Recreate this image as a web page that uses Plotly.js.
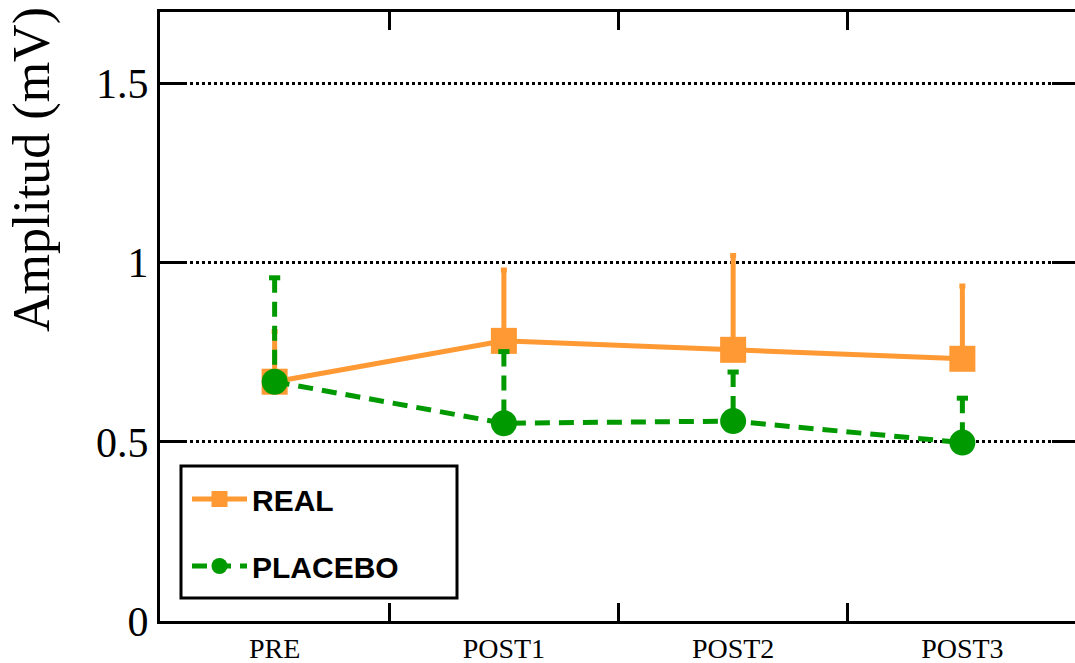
<!DOCTYPE html>
<html>
<head>
<meta charset="utf-8">
<script src="https://cdn.plot.ly/plotly-3.0.1.min.js"></script>
<style>
html, body { margin: 0; padding: 0; overflow: hidden; background: #fff; }
#chart { width: 1080px; height: 663px; }
</style>
</head>
<body>
<div id="chart"></div>
<script>
// ---- data ----
var categories = ['PRE', 'POST1', 'POST2', 'POST3'];
var realValues = [0.668, 0.782, 0.757, 0.732];
var realErrors = [0.14, 0.198, 0.263, 0.203];
var placeboValues = [0.668, 0.552, 0.558, 0.498];
var placeboErrors = [0.29, 0.2, 0.137, 0.124];
var yTickValues = [0, 0.5, 1, 1.5];
var yTickLabels = ['0', '0.5', '1', '1.5'];
var seriesNames = ['REAL', 'PLACEBO'];
var yTitle = 'Amplitud (mV)';

// ---- styles ----
var ORANGE = '#FF9933';
var GREEN = '#009900';
var GREEN_DASH = '15px,9px';

// dashed error segments for placebo, built from the data arrays
var pErrX = [], pErrY = [];
categories.forEach(function (c, i) {
  pErrX.push(c, c, null);
  pErrY.push(placeboValues[i] + placeboErrors[i], placeboValues[i], null);
});
var pCapY = placeboValues.map(function (v, i) { return v + placeboErrors[i]; });

var traces = [
  {
    type: 'scatter', mode: 'lines+markers', name: seriesNames[0], legendgroup: 'real',
    x: categories, y: realValues,
    line: { color: ORANGE, width: 5 },
    marker: { symbol: 'square', size: 26, color: ORANGE },
    error_y: {
      type: 'data', symmetric: false, array: realErrors,
      arrayminus: realErrors.map(function () { return 0; }),
      color: ORANGE, thickness: 5, width: 3
    },
    cliponaxis: false
  },
  {
    type: 'scatter', mode: 'lines', showlegend: false, legendgroup: 'placebo',
    x: pErrX, y: pErrY, connectgaps: false, hoverinfo: 'skip',
    line: { color: GREEN, width: 5, dash: GREEN_DASH }
  },
  {
    type: 'scatter', mode: 'markers', showlegend: false, legendgroup: 'placebo',
    x: categories, y: pCapY, hoverinfo: 'skip',
    marker: { symbol: 'line-ew', size: 8, line: { color: GREEN, width: 5 } }
  },
  {
    type: 'scatter', mode: 'lines+markers', name: seriesNames[1], legendgroup: 'placebo',
    x: categories, y: placeboValues,
    line: { color: GREEN, width: 5, dash: GREEN_DASH },
    marker: { symbol: 'circle', size: 26, color: GREEN }
  }
];

var PW = 917, PH = 609, ML = 160, MT = 12;
function px2x(p) { return (p - ML) / PW; }
function px2y(p) { return (MT + PH - p) / PH; }

var layout = {
  width: 1080, height: 663,
  margin: { l: ML, r: 3, t: MT, b: 42 },
  paper_bgcolor: '#fff', plot_bgcolor: '#fff',
  showlegend: true,
  xaxis: {
    type: 'category', categoryorder: 'array', categoryarray: categories,
    range: [-0.5, 3.5], tickson: 'boundaries',
    ticks: 'inside', ticklen: 18, tickwidth: 3, tickcolor: '#000',
    showline: true, linewidth: 3, linecolor: '#000', mirror: 'ticks',
    showgrid: false, zeroline: false,
    tickfont: { family: 'Liberation Serif, serif', size: 28, color: '#000' }
  },
  yaxis: {
    range: [0, 1.7], tickmode: 'array', tickvals: yTickValues, ticktext: yTickLabels,
    ticks: 'inside', ticklen: 25, tickwidth: 3, tickcolor: '#000',
    showline: true, linewidth: 3, linecolor: '#000', mirror: 'ticks',
    showgrid: true, gridcolor: '#000', gridwidth: 3, griddash: 'dot',
    zeroline: false,
    tickfont: { family: 'Liberation Serif, serif', size: 42, color: '#000' }
  },
  legend: {
    x: px2x(187), y: px2y(473), xanchor: 'left', yanchor: 'top',
    bgcolor: 'rgba(0,0,0,0)', borderwidth: 0,
    traceorder: 'grouped', tracegroupgap: 25, itemwidth: 55,
    font: { family: 'Liberation Sans, Arial, sans-serif', size: 30, color: '#000', weight: 'bold' }
  },
  shapes: [{
    type: 'rect', xref: 'paper', yref: 'paper',
    x0: px2x(181), x1: px2x(457), y0: px2y(598), y1: px2y(466),
    line: { color: '#000', width: 3 }, fillcolor: 'rgba(0,0,0,0)', layer: 'above'
  }],
  annotations: [{
    text: yTitle, xref: 'paper', yref: 'paper',
    x: px2x(32), y: px2y(170), xanchor: 'center', yanchor: 'middle',
    textangle: -90, showarrow: false,
    font: { family: 'Liberation Serif, serif', size: 52, color: '#000' }
  }]
};

Plotly.newPlot('chart', traces, layout, { displayModeBar: false, staticPlot: true });
</script>
</body>
</html>
